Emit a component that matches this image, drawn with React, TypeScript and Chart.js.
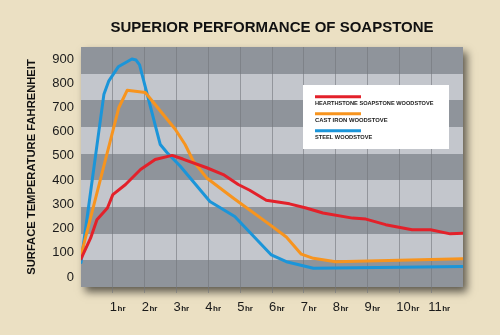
import React, { useEffect, useRef } from "react";
import { Chart, registerables } from "chart.js";

Chart.register(...registerables);

const chartTitle = "SUPERIOR PERFORMANCE OF SOAPSTONE";
const yAxisTitle = "SURFACE TEMPERATURE FAHRENHEIT";
const seriesNames = [
  "HEARTHSTONE SOAPSTONE WOODSTOVE",
  "CAST IRON WOODSTOVE",
  "STEEL WOODSTOVE",
];
const seriesColors = ["#e3212a", "#f7941e", "#1b95d9"];

const yTicks = [0, 100, 200, 300, 400, 500, 600, 700, 800, 900];
const xTickValues = [1, 2, 3, 4, 5, 6, 7, 8, 9, 10, 11];
const xTickLabels = ["1", "2", "3", "4", "5", "6", "7", "8", "9", "10", "11"];
const xTickUnit = "hr";

const soapHours = [0, 0.3, 0.5, 0.83, 1.0, 1.4, 1.87, 2.33, 2.86, 3.2, 3.95, 4.47, 4.94, 5.3, 5.82, 6.55, 7.07, 7.6, 8.53, 8.95, 9.57, 10.4, 10.98, 11.6, 12];
const soapTemps = [75, 160, 236, 285, 340, 382, 444, 485, 502, 487, 451, 423, 382, 358, 317, 302, 285, 264, 243, 239, 216, 195, 195, 178, 180];

const ironHours = [0, 1.19, 1.45, 2.02, 2.96, 3.27, 3.53, 3.95, 4.78, 5.93, 6.45, 6.92, 7.3, 8.0, 12];
const ironTemps = [90, 700, 771, 762, 610, 547, 478, 409, 326, 216, 165, 94, 77, 63, 75];

const steelHours = [0, 0.72, 0.875, 1.17, 1.6, 1.73, 1.84, 2.49, 2.7, 3.12, 4.05, 4.83, 5.98, 6.45, 7.3, 12];
const steelTemps = [60, 755, 810, 868, 900, 896, 876, 547, 514, 457, 312, 250, 91, 63, 36, 43];

const FONT = "'Liberation Sans', Arial, Helvetica, sans-serif";

const toPoints = (xs: number[], ys: number[]) => xs.map((x, i) => ({ x, y: ys[i] }));

const backgroundPlugin = {
  id: "stoneBackground",
  beforeDraw(chart: any) {
    const { ctx, chartArea: a, width, height } = chart;
    ctx.save();
    ctx.fillStyle = "#ebe0c3";
    ctx.fillRect(0, 0, width, height);
    ctx.save();
    ctx.shadowColor = "rgba(0,0,0,0.6)";
    ctx.shadowBlur = 8;
    ctx.shadowOffsetX = 4;
    ctx.shadowOffsetY = 5;
    ctx.fillStyle = "#8f949b";
    ctx.fillRect(a.left, a.top, a.right - a.left, a.bottom - a.top);
    ctx.restore();
    const bands = 9;
    const h = (a.bottom - a.top) / bands;
    for (let i = 0; i < bands; i++) {
      ctx.fillStyle = i % 2 === 0 ? "#8f949b" : "#c3c6cc";
      const y0 = Math.round(a.top + i * h);
      const y1 = Math.round(a.top + (i + 1) * h);
      ctx.fillRect(a.left, y0, a.right - a.left, y1 - y0);
    }
    ctx.restore();
  },
};

const decorPlugin = {
  id: "decor",
  afterDraw(chart: any) {
    const { ctx, chartArea: a } = chart;
    const xs = chart.scales.x;
    ctx.save();
    // x tick labels: number + small "hr"
    ctx.textBaseline = "alphabetic";
    ctx.textAlign = "left";
    ctx.fillStyle = "#1a1a1a";
    const base = a.bottom + 23.5;
    xTickValues.forEach((v, i) => {
      const px = xs.getPixelForValue(v);
      ctx.font = `13px ${FONT}`;
      const label = xTickLabels[i];
      const w = ctx.measureText(label).width;
      const x0 = px - 3;
      ctx.fillText(label, x0, base);
      ctx.font = `bold 8px ${FONT}`;
      ctx.fillText(xTickUnit, x0 + w + 0.5, base);
    });

    // legend box
    const bx = 303, by = 85, bw = 146, bh = 64;
    ctx.fillStyle = "#ffffff";
    ctx.fillRect(bx, by, bw, bh);
    const rows = [96.7, 113.7, 130.7];
    chart.data.datasets.forEach((ds: any, i: number) => {
      ctx.strokeStyle = ds.borderColor;
      ctx.lineWidth = 3;
      ctx.beginPath();
      ctx.moveTo(315, rows[i]);
      ctx.lineTo(361, rows[i]);
      ctx.stroke();
      ctx.fillStyle = "#1a1a1a";
      ctx.font = `bold 6px ${FONT}`;
      ctx.textBaseline = "middle";
      const w = ds.label.length * 3.82;
      ctx.fillText(ds.label, 315, rows[i] + 6.3, w);
    });
    ctx.restore();
  },
};

export default function App() {
  const ref = useRef<HTMLCanvasElement | null>(null);

  useEffect(() => {
    if (!ref.current) return;
    const lineDs = (i: number, xs: number[], ys: number[]) => ({
      label: seriesNames[i],
      data: toPoints(xs, ys),
      borderColor: seriesColors[i],
      backgroundColor: seriesColors[i],
      borderWidth: 3,
      pointRadius: 0,
      tension: 0,
      borderJoinStyle: "round" as const,
      borderCapStyle: "round" as const,
    });
    const chart = new Chart(ref.current, {
      type: "line",
      data: {
        datasets: [
          lineDs(0, soapHours, soapTemps),
          lineDs(1, ironHours, ironTemps),
          lineDs(2, steelHours, steelTemps),
        ],
      },
      options: {
        animation: false,
        responsive: false,
        devicePixelRatio: 1,
        layout: { padding: { left: 0, right: 37, top: 0, bottom: 0 } },
        plugins: {
          legend: { display: false },
          tooltip: { enabled: false },
          title: {
            display: true,
            text: chartTitle,
            fullSize: false,
            color: "#111111",
            font: { family: FONT, size: 15, weight: "bold" },
            padding: { top: 19, bottom: 10 },
          },
        },
        scales: {
          x: {
            type: "linear",
            min: 0,
            max: 12,
            afterBuildTicks: (s: any) => {
              s.ticks = [0, ...xTickValues, 12].map((v) => ({ value: v }));
            },
            afterFit: (s: any) => {
              s.height = 48;
            },
            ticks: { display: false },
            border: { display: false },
            grid: {
              color: (c: any) =>
                c.tick && (c.tick.value === 0 || c.tick.value === 12)
                  ? "rgba(0,0,0,0)"
                  : "rgba(115,118,124,0.6)",
              lineWidth: 1,
              tickLength: 6,
              drawTicks: true,
            },
          },
          y: {
            type: "linear",
            min: -41.5,
            max: 949.8,
            afterBuildTicks: (s: any) => {
              s.ticks = yTicks.map((v) => ({ value: v }));
            },
            afterFit: (s: any) => {
              s.width = 81;
            },
            border: { display: false },
            grid: { display: false, drawTicks: false },
            ticks: {
              color: "#1a1a1a",
              padding: 7,
              font: { family: FONT, size: 13 },
            },
            title: {
              display: true,
              text: yAxisTitle,
              color: "#111111",
              font: { family: FONT, size: 11.2, weight: "bold" },
              padding: { top: 25.3, bottom: 0 },
            },
          },
        },
      },
      plugins: [backgroundPlugin, decorPlugin],
    });
    return () => chart.destroy();
  }, []);

  return (
    <div style={{ position: "fixed", left: 0, top: 0, width: 500, height: 335, background: "#ebe0c3" }}>
      <canvas ref={ref} width={500} height={335} style={{ display: "block", width: 500, height: 335 }} />
    </div>
  );
}
